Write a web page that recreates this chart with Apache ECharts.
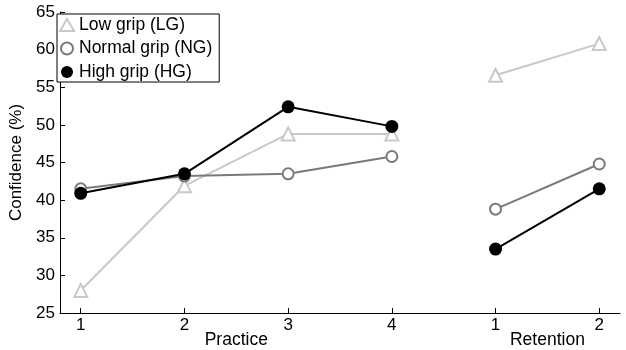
<!DOCTYPE html>
<html>
<head>
<meta charset="utf-8">
<script src="https://cdn.jsdelivr.net/npm/echarts@6/dist/echarts.min.js"></script>
<style>
html,body{margin:0;padding:0;background:#fff;}
#chart{width:626px;height:350px;}
</style>
</head>
<body>
<div id="chart"></div>
<script>
// 阶段与刻度
var practiceTicks = ['1', '2', '3', '4'];
var retentionTicks = ['1', '2'];
var phaseNames = ['Practice', 'Retention'];
// 数据：练习 1-4，保持 1-2
var lowGripPractice = [28.0, 41.9, 48.8, 48.8];
var lowGripRetention = [56.6, 60.8];
var normalGripPractice = [41.5, 43.2, 43.5, 45.8];
var normalGripRetention = [38.8, 44.8];
var highGripPractice = [40.9, 43.5, 52.4, 49.8];
var highGripRetention = [33.5, 41.5];

var tickLabels = practiceTicks.concat(retentionTicks);
var tickPos = tickLabels.map(function (t, i) { return i + 1; });

function buildData(practice, retention) {
	var d = practice.map(function (v, i) { return [i + 1, v]; });
	d.push([practice.length + 0.5, '-']);
	retention.forEach(function (v, i) { d.push([practice.length + i + 1, v]); });
	return d;
}

var font = 'Liberation Sans';
var lgColor = '#c8c8c8', ngColor = '#7a7a7a', hgColor = '#000';
var chart = echarts.init(document.getElementById('chart'));
var option = {
	backgroundColor: '#fff',
	animation: false,
	grid: {left: 57, right: 6, top: 12, bottom: 37},
	legend: {
		orient: 'vertical',
		left: 57,
		top: 14,
		padding: [2, 7, 1, 2],
		itemGap: 5.5,
		itemWidth: 14,
		itemHeight: 12,
		itemTextGap: 7,
		backgroundColor: '#fff',
		borderColor: '#000',
		borderWidth: 1,
		borderRadius: 0,
		textStyle: {fontFamily: font, fontSize: 17.5, color: '#000'},
		data: [
			{name: 'Low grip (LG)', icon: 'emptyTriangle', itemStyle: {color: lgColor, borderColor: lgColor, borderWidth: 2}},
			{name: 'Normal grip (NG)', icon: 'emptyCircle', itemStyle: {color: ngColor, borderColor: ngColor, borderWidth: 2}},
			{name: 'High grip (HG)', icon: 'circle', itemStyle: {color: hgColor, borderWidth: 0}}
		]
	},
	xAxis: [
		{
			type: 'value',
			min: 0.8,
			max: 6.2,
			splitLine: {show: false},
			axisLine: {lineStyle: {color: '#000', width: 1}},
			axisTick: {inside: true, length: 5, customValues: tickPos, lineStyle: {color: '#000'}},
			axisLabel: {
				customValues: tickPos,
				margin: 4,
				fontFamily: font, fontSize: 17, color: '#000',
				formatter: function (v) { return tickLabels[Math.round(v) - 1]; }
			}
		},
		{
			type: 'value',
			position: 'bottom',
			offset: 14,
			min: 0.8,
			max: 6.2,
			splitLine: {show: false},
			axisLine: {show: false},
			axisTick: {show: false},
			axisLabel: {
				customValues: [2.5, 5.5],
				margin: 4,
				fontFamily: font, fontSize: 17.5, color: '#000',
				formatter: function (v) { return v < 4 ? phaseNames[0] : phaseNames[1]; }
			}
		}
	],
	yAxis: {
		type: 'value',
		min: 25,
		max: 65,
		interval: 5,
		name: 'Confidence (%)',
		nameLocation: 'middle',
		nameGap: 35,
		nameTextStyle: {fontFamily: font, fontSize: 17, color: '#000'},
		splitLine: {show: false},
		axisLine: {show: true, lineStyle: {color: '#000', width: 1}},
		axisTick: {show: true, inside: true, length: 5, lineStyle: {color: '#000'}},
		axisLabel: {margin: 5, fontFamily: font, fontSize: 17, color: '#000'}
	},
	series: [
		{
			name: 'Low grip (LG)',
			type: 'line',
			data: buildData(lowGripPractice, lowGripRetention),
			symbol: 'triangle',
			symbolSize: 13,
			lineStyle: {color: lgColor, width: 2},
			itemStyle: {color: '#fff', borderColor: lgColor, borderWidth: 2}
		},
		{
			name: 'Normal grip (NG)',
			type: 'line',
			data: buildData(normalGripPractice, normalGripRetention),
			symbol: 'circle',
			symbolSize: 11,
			lineStyle: {color: ngColor, width: 2},
			itemStyle: {color: '#fff', borderColor: ngColor, borderWidth: 2}
		},
		{
			name: 'High grip (HG)',
			type: 'line',
			data: buildData(highGripPractice, highGripRetention),
			symbol: 'circle',
			symbolSize: 13,
			lineStyle: {color: hgColor, width: 2},
			itemStyle: {color: hgColor, borderColor: hgColor, borderWidth: 0}
		}
	]
};
chart.setOption(option);
</script>
</body>
</html>
